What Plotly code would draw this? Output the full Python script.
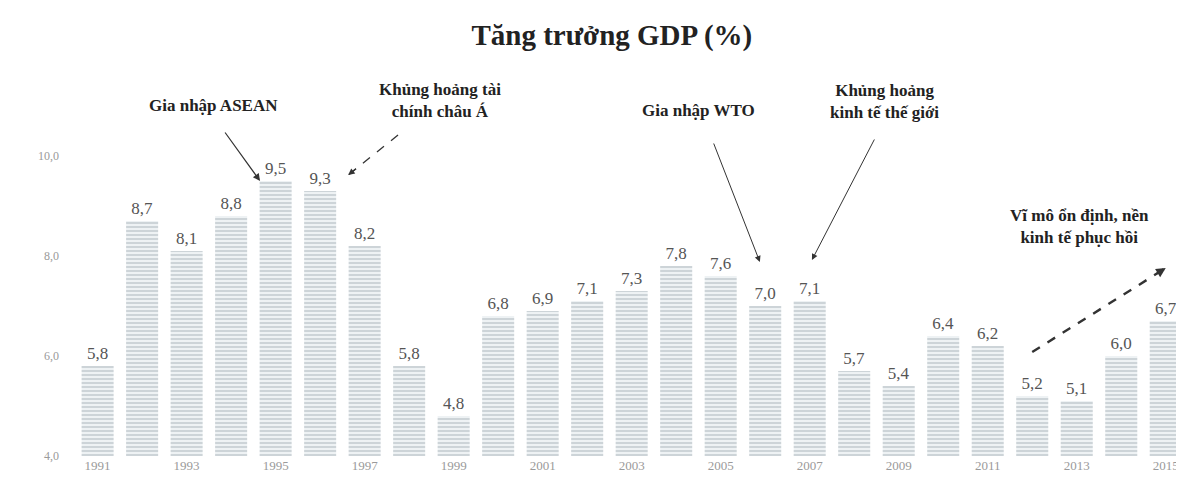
import math
import plotly.graph_objects as go

years = list(range(1991, 2016))
growth = [5.8, 8.7, 8.1, 8.8, 9.5, 9.3, 8.2, 5.8, 4.8, 6.8, 6.9, 7.1, 7.3,
          7.8, 7.6, 7.0, 7.1, 5.7, 5.4, 6.4, 6.2, 5.2, 5.1, 6.0, 6.7]
tick_years = list(range(1991, 2016, 2))
y_ticks = [4, 6, 8, 10]
y_tick_labels = ["4,0", "6,0", "8,0", "10,0"]

title_text = "Tăng trưởng GDP (%)"
events = [
    # text, text x, text y, arrow tail x, tail y, head x, head y, dashed, width
    ("Gia nhập ASEAN", 1993.6, 11.02, 1993.84, 10.5, 1994.65, 9.5, False, 1.2),
    ("Khủng hoảng tài<br>chính châu Á", 1998.7, 11.12, 1997.75, 10.42, 1996.63, 9.62, True, 1.3),
    ("Gia nhập WTO", 2004.5, 10.92, 2004.83, 10.28, 2005.88, 7.88, False, 1.0),
    ("Khủng hoảng<br>kinh tế thế giới", 2008.67, 11.1, 2008.47, 10.36, 2007.05, 7.92, False, 1.0),
    ("Vĩ mô ổn định, nền<br>kinh tế phục hồi", 2013.07, 8.6, 2012.0, 6.08, 2015.0, 7.76, True, 2.4),
]

SERIF = "Liberation Serif, Times New Roman, serif"

X0, X1 = 1990.155, 2015.41
Y0, Y1 = 4, 11.5
ML, MR, MT, MB = 52, 8, 73, 42
W, H = 1184, 490
PX_PER_X = (W - ML - MR) / (X1 - X0)
PX_PER_Y = (H - MT - MB) / (Y1 - Y0)

fig = go.Figure()
fig.add_trace(go.Bar(
    x=years, y=growth,
    text=[f"{v:.1f}".replace(".", ",") for v in growth],
    textposition="outside",
    textfont=dict(family=SERIF, size=17, color="#555555"),
    cliponaxis=False,
    marker=dict(
        color="#eef2f4",
        line=dict(width=0),
        pattern=dict(shape="-", fgcolor="#8d99a3", bgcolor="#eef2f4",
                     size=4, solidity=0.35),
    ),
    showlegend=False,
))

shapes = []
annotations = []
for text, tx, ty, ax, ay, hx, hy, dashed, w in events:
    annotations.append(dict(
        x=tx, y=ty, xref="x", yref="y", text=f"<b>{text}</b>", showarrow=False,
        font=dict(family=SERIF, size=17, color="#222222"), align="center",
    ))
    if dashed:
        shapes.append(dict(type="line", xref="x", yref="y", x0=ax, y0=ay, x1=hx, y1=hy,
                           line=dict(color="#333333", width=w, dash="dash")))
        dx = (ax - hx) * PX_PER_X
        dy = -(ay - hy) * PX_PER_Y
        n = math.hypot(dx, dy)
        L = 12
        annotations.append(dict(
            x=hx, y=hy, xref="x", yref="y", ax=dx / n * L, ay=dy / n * L,
            text="", showarrow=True, arrowhead=2, arrowsize=1.0 if w < 2 else 0.8,
            arrowwidth=w, arrowcolor="#333333",
        ))
    else:
        annotations.append(dict(
            x=hx, y=hy, xref="x", yref="y", ax=ax, ay=ay, axref="x", ayref="y",
            text="", showarrow=True, arrowhead=2, arrowsize=1.2,
            arrowwidth=w, arrowcolor="#333333",
        ))

fig.update_layout(
    width=W, height=H,
    margin=dict(l=ML, r=MR, t=MT, b=MB),
    paper_bgcolor="white", plot_bgcolor="white",
    title=dict(text=f"<b>{title_text}</b>", x=0.51, xanchor="center",
               y=0.945, yref="container", yanchor="middle",
               font=dict(family=SERIF, size=29, color="#222222")),
    bargap=0.28,
    xaxis=dict(range=[X0, X1], tickvals=tick_years,
               ticktext=[str(y) for y in tick_years],
               showgrid=False, zeroline=False, showline=False,
               tickfont=dict(family=SERIF, size=13, color="#9a9a9a")),
    yaxis=dict(range=[Y0, Y1], tickvals=y_ticks, ticktext=y_tick_labels,
               showgrid=False, zeroline=False, showline=False,
               tickfont=dict(family=SERIF, size=12, color="#9a9a9a")),
    shapes=shapes,
    annotations=annotations,
)

fig.write_html("out.html")
